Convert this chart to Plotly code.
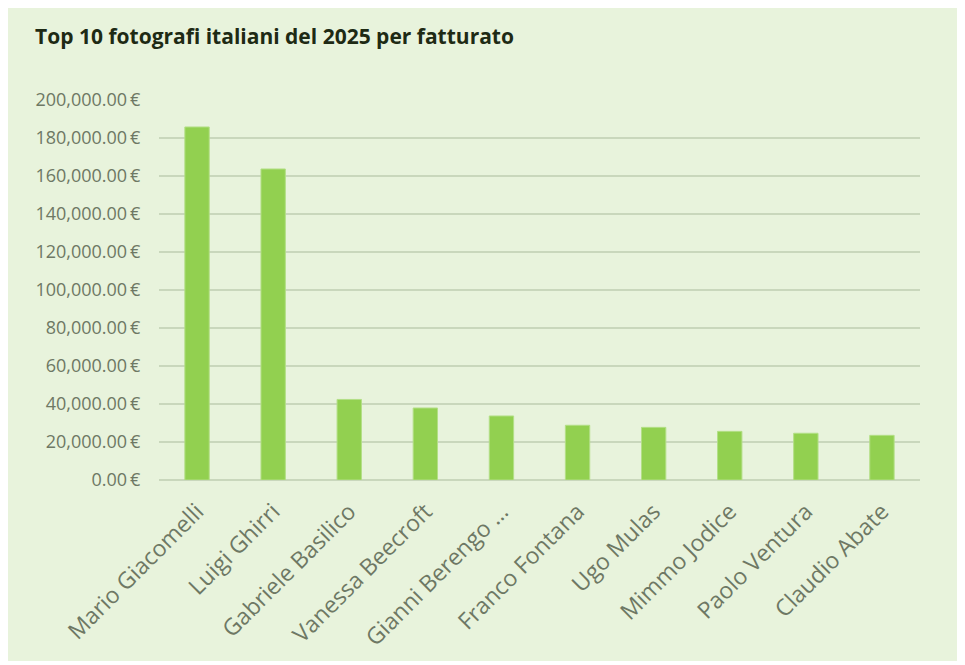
import plotly.graph_objects as go

fotografi = ['Mario Giacomelli', 'Luigi Ghirri', 'Gabriele Basilico', 'Vanessa Beecroft',
             'Gianni Berengo …', 'Franco Fontana', 'Ugo Mulas', 'Mimmo Jodice',
             'Paolo Ventura', 'Claudio Abate']
fatturato = [185800, 163700, 42400, 37900, 33700, 28800, 27700, 25600, 24600, 23500]
y_ticks = [0, 20000, 40000, 60000, 80000, 100000, 120000, 140000, 160000, 180000, 200000]
y_labels = [f'{v:,.2f}\u2009€' for v in y_ticks]

bg = '#E8F3DC'
text_grey = '#6E7864'

fig = go.Figure()
fig.add_trace(
    go.Bar(
        x=fotografi,
        y=fatturato,
        marker=dict(color='#92D050', line=dict(color='#B3DF86', width=1)),
        width=0.32,
    )
)

fig.update_layout(
    width=950,
    height=653,
    paper_bgcolor=bg,
    plot_bgcolor=bg,
    margin=dict(l=151, r=38, t=92, b=181),
    showlegend=False,
    title=dict(
        text='<b>Top 10 fotografi italiani del 2025 per fatturato</b>',
        x=27 / 950,
        xanchor='left',
        y=1 - 29 / 653,
        yanchor='middle',
        font=dict(family='Open Sans', size=21, color='#1E2A14'),
    ),
    font=dict(family='Open Sans', color=text_grey),
    yaxis=dict(
        range=[0, 200000],
        tickvals=y_ticks,
        ticktext=y_labels,
        tickfont=dict(size=18, color=text_grey),
        gridcolor='#C9D7BC',
        gridwidth=2,
        zeroline=True,
        zerolinecolor='#C9D7BC',
        zerolinewidth=2,
        ticks='outside',
        ticklen=14,
        tickcolor='rgba(0,0,0,0)',
        automargin=False,
    ),
    xaxis=dict(
        tickangle=-45,
        tickfont=dict(size=23, color=text_grey),
        showgrid=False,
        ticks='outside',
        ticklen=8,
        tickcolor='rgba(0,0,0,0)',
        automargin=False,
    ),
)

fig.write_html("out.html")
